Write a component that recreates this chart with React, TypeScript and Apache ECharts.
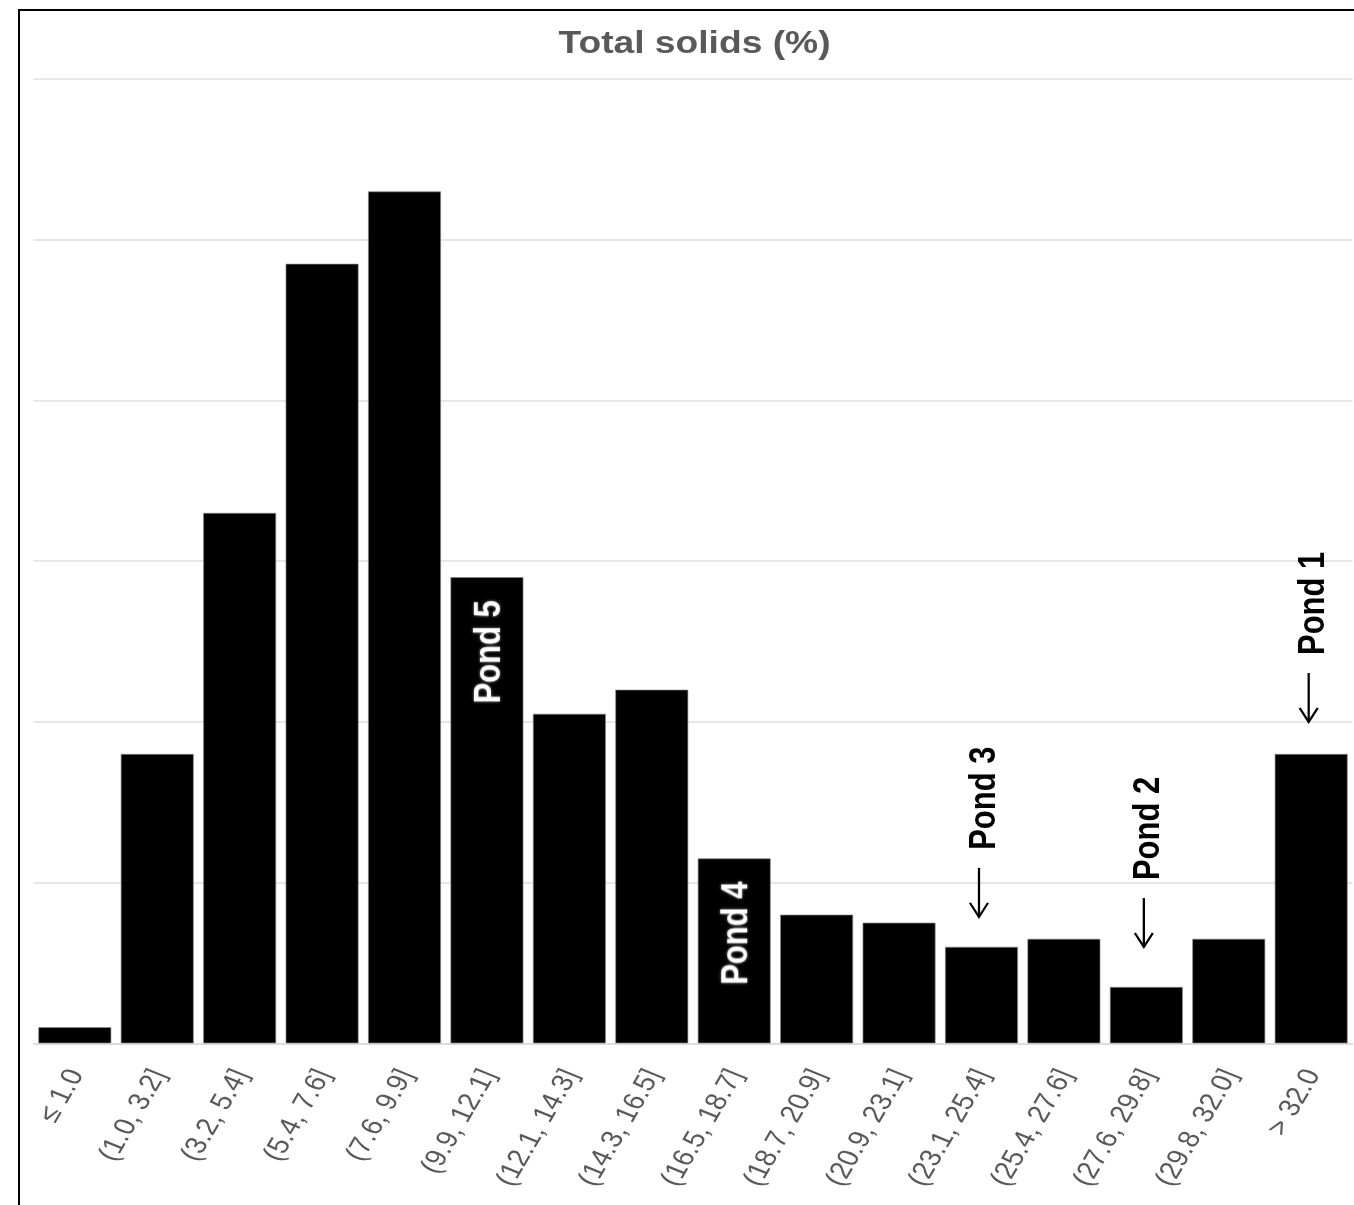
import React, { useEffect, useRef } from "react";
import * as echarts from "echarts";

// ---------- data ----------
const categories = [
  "≤ 1.0",
  "(1.0, 3.2]",
  "(3.2, 5.4]",
  "(5.4, 7.6]",
  "(7.6, 9.9]",
  "(9.9, 12.1]",
  "(12.1, 14.3]",
  "(14.3, 16.5]",
  "(16.5, 18.7]",
  "(18.7, 20.9]",
  "(20.9, 23.1]",
  "(23.1, 25.4]",
  "(25.4, 27.6]",
  "(27.6, 29.8]",
  "(29.8, 32.0]",
  "> 32.0",
];
const counts = [2, 36, 66, 97, 106, 58, 41, 44, 23, 16, 15, 12, 13, 7, 13, 36];
const yMin = 0;
const yMax = 120;
const yStep = 20;
const titleText = "Total solids (%)";
const insideLabels = [
  { text: "Pond 5", category: "(9.9, 12.1]" },
  { text: "Pond 4", category: "(16.5, 18.7]" },
];
const arrowLabels = [
  { text: "Pond 3", category: "(23.1, 25.4]" },
  { text: "Pond 2", category: "(27.6, 29.8]" },
  { text: "Pond 1", category: "> 32.0" },
];

// ---------- style ----------
const STRETCH = 1.2;
const PAGE_W = 1354;
const PAGE_H = 1205;
const CHART_W = PAGE_W / STRETCH;
const FONT = '"Liberation Sans", Arial, Helvetica, sans-serif';
const arrowTipGap: Record<string, number> = { "Pond 3": 30, "Pond 2": 40, "Pond 1": 32 };

export default function App() {
  const ref = useRef<HTMLDivElement>(null);

  useEffect(() => {
    if (!ref.current) return;
    const chart = echarts.init(ref.current, null, { renderer: "svg" });
    chart.setOption({
      animation: false,
      backgroundColor: "#fff",
      grid: { left: 28, right: 1, top: 79, bottom: 161.7, containLabel: false },
      xAxis: {
        type: "category",
        data: categories,
        axisTick: { show: false },
        axisLine: { lineStyle: { color: "#d9d9d9", width: 1.5 } },
        axisLabel: {
          interval: 0,
          rotate: 64,
          color: "#595959",
          fontSize: 25,
          fontFamily: FONT,
          margin: 27,
        },
      },
      yAxis: {
        type: "value",
        min: yMin,
        max: yMax,
        interval: yStep,
        axisLabel: { show: false },
        axisLine: { show: false },
        axisTick: { show: false },
        splitLine: { lineStyle: { color: "#dedede", width: 1.5 } },
      },
      series: [
        {
          type: "bar",
          data: counts,
          barCategoryGap: "11.5%",
          itemStyle: { color: "#000", borderColor: "#888", borderWidth: 0.6 },
        },
      ],
    });

    const graphics: any[] = [
      {
        type: "text",
        z: 100,
        x: 694.5 / STRETCH,
        y: 42,
        style: {
          text: titleText,
          fill: "#595959",
          fontSize: 31,
          fontWeight: "bold",
          fontFamily: FONT,
          align: "center",
          verticalAlign: "middle",
        },
      },
    ];

    insideLabels.forEach((a) => {
      const i = categories.indexOf(a.category);
      const [cx, top] = chart.convertToPixel({ seriesIndex: 0 }, [i, counts[i]]) as number[];
      graphics.push({
        type: "text",
        z: 100,
        x: cx,
        y: top + 23,
        rotation: Math.PI / 2,
        style: {
          text: a.text,
          fill: "#fff",
          fontSize: 31,
          fontWeight: "bold",
          fontFamily: FONT,
          align: "right",
          verticalAlign: "middle",
          textShadowColor: "rgba(255,255,255,0.55)",
          textShadowBlur: 3,
        },
      });
    });

    arrowLabels.forEach((a) => {
      const i = categories.indexOf(a.category);
      const [cx, top] = chart.convertToPixel({ seriesIndex: 0 }, [i, counts[i]]) as number[];
      const tip = top - arrowTipGap[a.text];
      const arrowTop = tip - 49;
      const ax = cx - 2.5 / STRETCH;
      graphics.push({
        type: "line",
        z: 100,
        shape: { x1: ax, y1: arrowTop, x2: ax, y2: tip },
        style: { stroke: "#000", lineWidth: 1.9 },
      });
      graphics.push({
        type: "polyline",
        z: 100,
        shape: { points: [[ax - 7.5, tip - 14], [ax, tip], [ax + 7.5, tip - 14]] },
        style: { stroke: "#000", lineWidth: 1.9, fill: "none" },
      });
      graphics.push({
        type: "text",
        z: 100,
        x: cx,
        y: arrowTop - 18,
        rotation: Math.PI / 2,
        style: {
          text: a.text,
          fill: "#000",
          fontSize: 31,
          fontWeight: "bold",
          fontFamily: FONT,
          align: "left",
          verticalAlign: "middle",
        },
      });
    });

    chart.setOption({ graphic: graphics });

    return () => chart.dispose();
  }, []);

  return (
    <div
      style={{
        position: "absolute",
        left: 0,
        top: 0,
        width: PAGE_W,
        height: PAGE_H,
        overflow: "hidden",
        background: "#fff",
      }}
    >
      <div
        ref={ref}
        style={{
          position: "absolute",
          left: 0,
          top: 0,
          width: CHART_W,
          height: PAGE_H,
          transform: `scaleX(${STRETCH})`,
          transformOrigin: "0 0",
        }}
      />
      <div
        style={{
          position: "absolute",
          left: 18,
          top: 9,
          width: PAGE_W - 18,
          height: PAGE_H - 9,
          boxSizing: "border-box",
          borderLeft: "2px solid #000",
          borderTop: "2px solid #000",
          pointerEvents: "none",
        }}
      />
    </div>
  );
}
